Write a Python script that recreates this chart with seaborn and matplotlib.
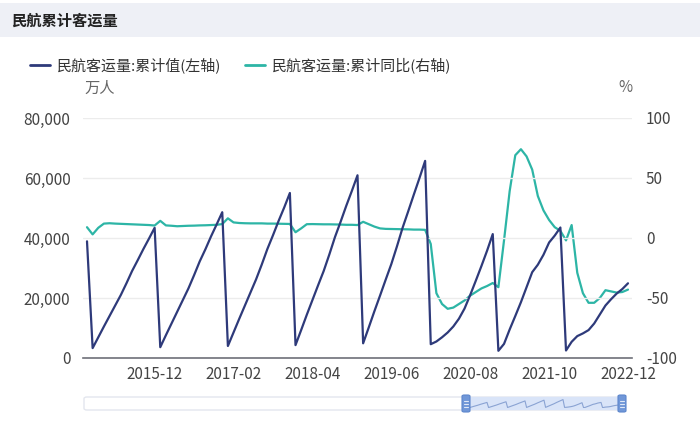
import numpy as np
import pandas as pd
import matplotlib
matplotlib.use("Agg")
import matplotlib.pyplot as plt
import seaborn as sns
from matplotlib.patches import Rectangle, FancyBboxPatch
from matplotlib.lines import Line2D

sns.set_theme(style="white")
plt.rcParams['font.family'] = ['Noto Sans CJK SC', 'DejaVu Sans']

# ---- data (万人, cumulative within year) ----
months = pd.date_range("2014-12-01", "2022-12-01", freq="MS").strftime("%Y-%m").tolist()

cum_2014 = [38900]
cum_2015 = [3300, 6900, 10500, 14000, 17500, 21000, 24900, 29000, 32600, 36300, 39800, 43400]
cum_2016 = [3600, 7600, 11500, 15400, 19300, 23200, 27600, 32200, 36200, 40500, 44500, 48600]
cum_2017 = [4000, 8500, 13000, 17400, 21800, 26200, 31100, 36300, 40900, 45700, 50200, 55000]
cum_2018 = [4300, 9300, 14400, 19300, 24200, 29000, 34500, 40300, 45400, 50700, 55700, 60900]
cum_2019 = [4900, 10200, 15600, 20800, 26100, 31300, 37200, 43400, 48900, 54500, 60000, 65700]
cum_2020 = [4600, 5500, 6900, 8500, 10500, 13100, 16500, 21000, 25800, 30700, 35800, 41300]
cum_2021 = [2400, 4700, 9500, 14000, 18600, 23600, 28600, 31100, 34400, 38500, 40800, 43500]
cum_2022 = [2500, 5400, 7300, 8200, 9300, 11500, 14500, 17500, 19600, 21500, 23000, 24900]

yoy_2014 = [9.0]
yoy_2015 = [3.0, 8.5, 12.0, 12.3, 12.0, 11.8, 11.6, 11.4, 11.2, 11.0, 10.8, 10.4]
yoy_2016 = [14.3, 10.5, 10.2, 9.8, 10.0, 10.2, 10.3, 10.5, 10.6, 10.8, 11.0, 11.6]
yoy_2017 = [16.4, 13.0, 12.5, 12.3, 12.2, 12.2, 12.2, 12.0, 12.0, 11.9, 11.8, 11.7]
yoy_2018 = [4.8, 8.0, 11.5, 11.6, 11.5, 11.4, 11.4, 11.3, 11.2, 11.0, 11.0, 10.8]
yoy_2019 = [13.5, 11.5, 9.5, 8.0, 7.6, 7.5, 7.4, 7.3, 7.2, 7.0, 7.0, 6.8]
yoy_2020 = [-5.0, -46.0, -55.0, -59.0, -58.0, -55.0, -52.0, -48.0, -45.0, -42.0, -40.0, -37.5]
yoy_2021 = [-41.0, -2.0, 39.0, 69.0, 74.0, 68.0, 57.0, 35.0, 23.0, 15.0, 9.0, 6.0]
yoy_2022 = [-2.0, 10.8, -29.0, -46.0, -54.0, -54.0, -50.0, -43.5, -44.5, -45.5, -45.0, -43.0]

cum = (cum_2014 + cum_2015 + cum_2016 + cum_2017 + cum_2018 + cum_2019
       + cum_2020 + cum_2021 + cum_2022)
yoy = (yoy_2014 + yoy_2015 + yoy_2016 + yoy_2017 + yoy_2018 + yoy_2019
       + yoy_2020 + yoy_2021 + yoy_2022)

tick_labels = ["2015-12", "2017-02", "2018-04", "2019-06", "2020-08", "2021-10", "2022-12"]
left_ticks = [0, 20000, 40000, 60000, 80000]
right_ticks = [-100, -50, 0, 50, 100]

label_cum = "民航客运量:累计值(左轴)"
label_yoy = "民航客运量:累计同比(右轴)"
title = "民航累计客运量"

df = pd.DataFrame({"month": months, "idx": np.arange(len(months)), "cum": cum, "yoy": yoy})

NAVY = "#2e3a7a"
TEAL = "#2db5a6"
TXT = "#444444"

W, H = 700, 425
fig = plt.figure(figsize=(7, 4.25), dpi=100)

def fx(px):
    return px / W

def fy(py):
    return 1 - py / H

# title band
fig.patches.append(Rectangle((0, fy(37)), 1, (34) / H, transform=fig.transFigure,
                             facecolor="#eef0f6", edgecolor="none", zorder=0))
fig.text(fx(11), fy(21), title, fontsize=11, fontweight="bold", color="#222222",
         va="center", ha="left")

ax = fig.add_axes([fx(83), fy(358), fx(632 - 83), (358 - 118) / H])
ax2 = ax.twinx()

sns.lineplot(data=df, x="idx", y="cum", ax=ax, color=NAVY, linewidth=1.6)
sns.lineplot(data=df, x="idx", y="yoy", ax=ax2, color=TEAL, linewidth=1.6)

n = len(months)
ax.set_xlim(-0.71, n - 1 + 0.71)
ax.set_ylim(0, 80000)
ax2.set_ylim(-100, 100)
ax.set_yticks(left_ticks)
ax.set_yticklabels([f"{v:,}" for v in left_ticks])
ax2.set_yticks(right_ticks)
ax2.set_yticklabels([str(v) for v in right_ticks])
ax.set_xticks([months.index(t) for t in tick_labels])
ax.set_xticklabels(tick_labels)
ax.set_xlabel("")
ax.set_ylabel("")
ax2.set_ylabel("")

ax.grid(axis="y", color="#ececec", linewidth=1)
ax.grid(axis="x", visible=False)
ax2.grid(False)
for a in (ax, ax2):
    for s in a.spines.values():
        s.set_visible(False)
ax.spines["bottom"].set_visible(True)
ax.spines["bottom"].set_color("#6e7079")
ax.spines["bottom"].set_linewidth(1.2)
ax.set_zorder(ax2.get_zorder() + 1)
ax.patch.set_visible(False)

ax.tick_params(axis="y", length=0, pad=9, labelsize=11, labelcolor=TXT)
ax.tick_params(axis="x", length=0, pad=6, labelsize=11, labelcolor=TXT)
ax2.tick_params(axis="y", length=0, pad=10, labelsize=11, labelcolor=TXT)

# units
fig.text(fx(100), fy(88), "万人", fontsize=11, color="#666666", ha="center", va="center")
fig.text(fx(625), fy(88), "%", fontsize=11, color="#666666", ha="center", va="center")

# legend
handles = [Line2D([], [], color=NAVY, linewidth=2), Line2D([], [], color=TEAL, linewidth=2)]
fig.legend(handles, [label_cum, label_yoy], loc="center left",
           bbox_to_anchor=(fx(30), fy(65)), ncol=2, frameon=False, fontsize=10.8,
           handlelength=1.3, handletextpad=0.5, columnspacing=1.6, borderpad=0,
           borderaxespad=0, labelcolor="#333333")

# data-zoom slider decoration
fig.patches.append(FancyBboxPatch((fx(84), fy(410)), fx(538), 13 / H,
                                  boxstyle="round,pad=0,rounding_size=0.004",
                                  transform=fig.transFigure, facecolor="white",
                                  edgecolor="#e3e6ee", linewidth=1, zorder=1))
fig.patches.append(Rectangle((fx(466), fy(410)), fx(156), 13 / H, transform=fig.transFigure,
                             facecolor="#d9e4f8", edgecolor="none", zorder=2))
axs = fig.add_axes([fx(468), fy(408), fx(152), 9 / H])
axs.set_zorder(6)
axs.patch.set_visible(False)
axs.plot(df["idx"], df["cum"], color="#8aa3d3", linewidth=0.8)
axs.set_xlim(0, n - 1)
axs.set_ylim(0, 70000)
axs.axis("off")
for hx in (466, 622):
    fig.patches.append(FancyBboxPatch((fx(hx - 4), fy(412)), fx(8), 17 / H,
                                      boxstyle="round,pad=0,rounding_size=0.003",
                                      transform=fig.transFigure, facecolor="#7097d8",
                                      edgecolor="#5d86cc", linewidth=0.8, zorder=7))
    for dy in (401, 404, 407):
        fig.lines.append(Line2D([fx(hx - 2), fx(hx + 2)], [fy(dy), fy(dy)],
                                transform=fig.transFigure, color="#dfe8f7", linewidth=0.8, zorder=8))

fig.savefig("out.png", dpi=100)
